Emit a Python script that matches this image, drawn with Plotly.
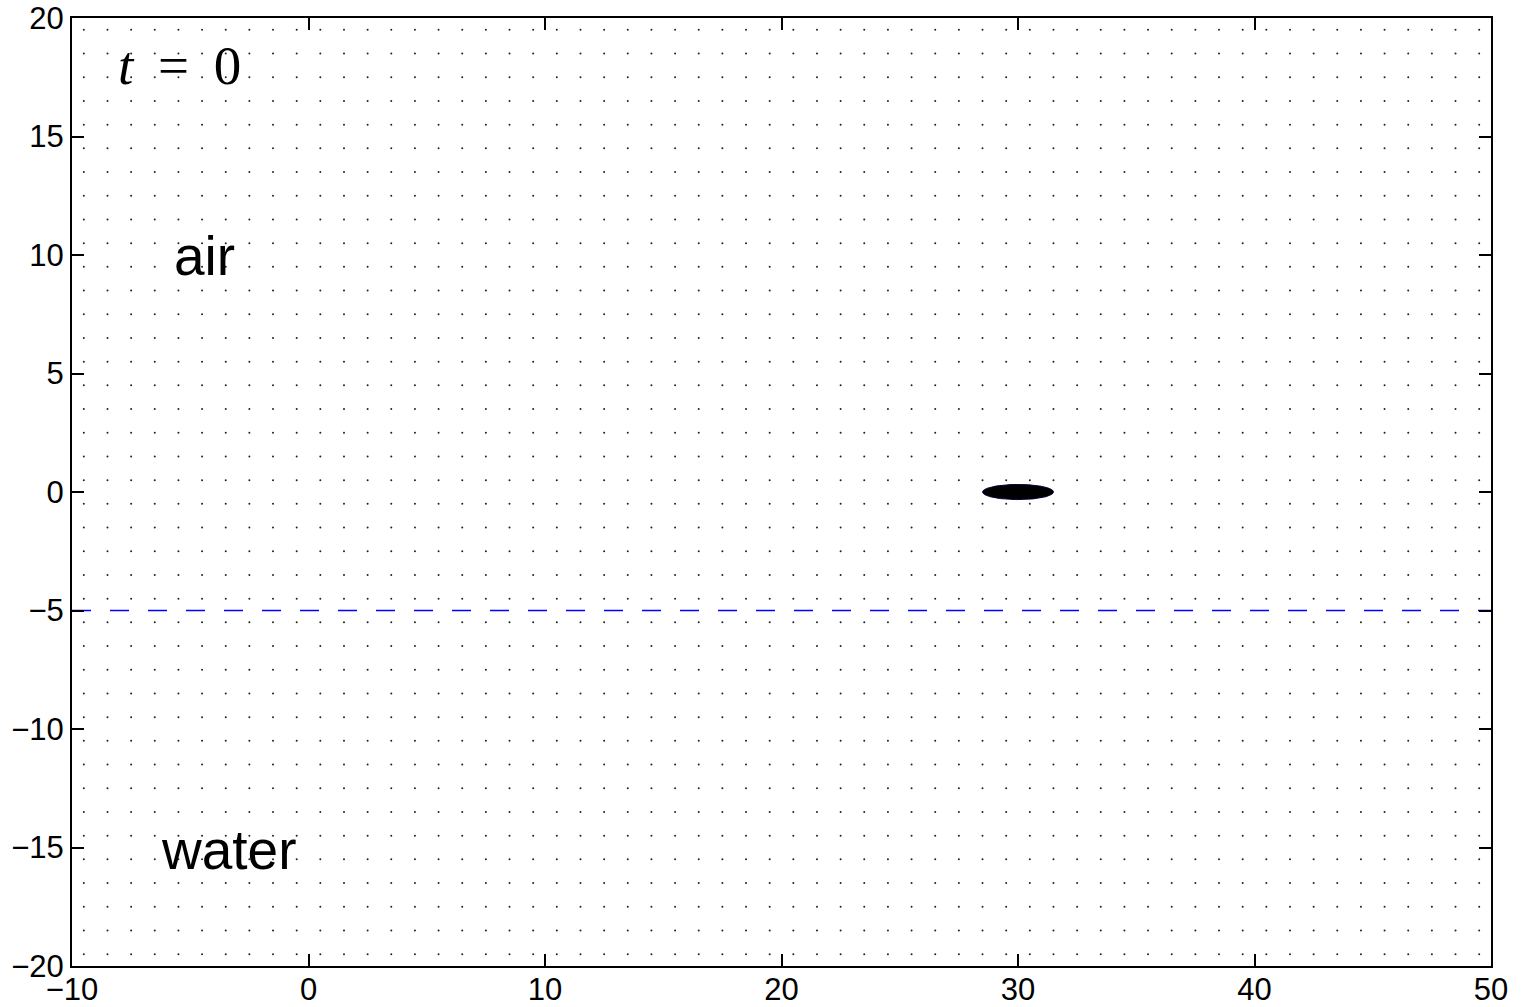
import numpy as np
import plotly.graph_objects as go

# Axis limits and ticks
x_range = [-10, 50]
y_range = [-20, 20]
x_ticks = [-10, 0, 10, 20, 30, 40, 50]
y_ticks = [-20, -15, -10, -5, 0, 5, 10, 15, 20]

# Free surface level
surface_y = -5

# Body: ellipse centre and semi-axes
body_cx, body_cy = 30, 0
body_a, body_b = 1.5, 0.32

# Region labels
label_text = ["air", "water"]
label_x = [-4.4, -3.35]
label_y = [9.95, -15.1]

# Time stamp
time_x, time_y = -5.44, 18.0

fig = go.Figure()

# Dotted background grid (half-integer lattice)
gx, gy = np.meshgrid(np.arange(-9.5, 50, 1.0), np.arange(-19.5, 20, 1.0))
fig.add_trace(go.Scatter(
    x=gx.ravel(), y=gy.ravel(), mode="markers",
    marker=dict(size=2, color="#222222", line=dict(width=0)),
    hoverinfo="skip", showlegend=False,
))

# Free surface
fig.add_trace(go.Scatter(
    x=x_range, y=[surface_y, surface_y], mode="lines",
    line=dict(color="#0000ff", width=1.6, dash="19px,19px"),
    showlegend=False,
))

# Body
th = np.linspace(0, 2 * np.pi, 200)
fig.add_trace(go.Scatter(
    x=body_cx + body_a * np.cos(th), y=body_cy + body_b * np.sin(th),
    mode="lines", fill="toself", fillcolor="black",
    line=dict(color="#000033", width=1), showlegend=False,
))

for txt, lx, ly in zip(label_text, label_x, label_y):
    fig.add_annotation(x=lx, y=ly, text=txt, showarrow=False,
                       font=dict(family="Liberation Sans, Arial", size=55, color="black"),
                       xanchor="center", yanchor="middle")

fig.add_annotation(x=time_x, y=time_y,
                   text="<i>t</i> \u2009= \u20090", showarrow=False,
                   font=dict(family="Liberation Serif, DejaVu Serif", size=55, color="black"),
                   xanchor="center", yanchor="middle")

axis_common = dict(
    showgrid=False, zeroline=False, showline=True, linecolor="black", linewidth=2,
    mirror="allticks", ticks="inside", ticklen=12, tickwidth=1.5, tickcolor="black",
    tickfont=dict(family="Liberation Sans, Arial", size=31, color="black"),
    automargin=False,
)

fig.update_xaxes(range=x_range, tickvals=x_ticks, ticklabelstandoff=-5, **axis_common)
fig.update_yaxes(range=y_range, tickvals=y_ticks, **axis_common)

fig.update_layout(
    width=1521, height=1007,
    margin=dict(l=72, r=30, t=18, b=41),
    plot_bgcolor="white", paper_bgcolor="white",
    showlegend=False,
)

fig.write_html("out.html")
